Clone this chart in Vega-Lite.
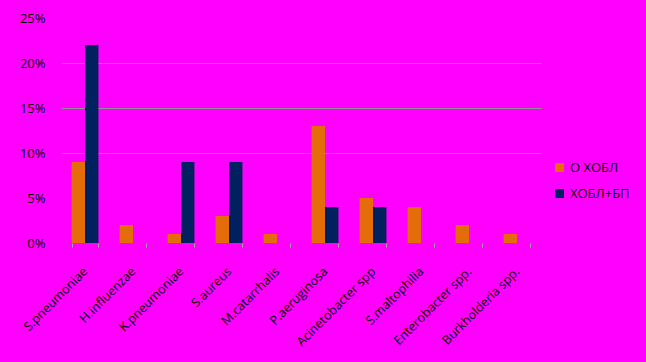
{
  "$schema": "https://vega.github.io/schema/vega-lite/v6.json",
  "width": 480,
  "height": 225,
  "autosize": {"type": "none"},
  "padding": {"left": 61, "top": 18, "right": 105, "bottom": 119},
  "background": "#FF00FF",
  "config": {
    "view": {"stroke": null},
    "font": "Open Sans",
    "axis": {"labelFont": "Open Sans", "labelColor": "#000000"},
    "legend": {"labelFont": "Open Sans", "labelColor": "#000000"}
  },
  "data": {
    "values": [
      {"org": "S.pneumoniae", "group": "О ХОБЛ", "v": 0.09},
      {"org": "S.pneumoniae", "group": "ХОБЛ+БП", "v": 0.22},
      {"org": "H.influenzae", "group": "О ХОБЛ", "v": 0.02},
      {"org": "H.influenzae", "group": "ХОБЛ+БП", "v": 0},
      {"org": "K.pneumoniae", "group": "О ХОБЛ", "v": 0.01},
      {"org": "K.pneumoniae", "group": "ХОБЛ+БП", "v": 0.09},
      {"org": "S.aureus", "group": "О ХОБЛ", "v": 0.03},
      {"org": "S.aureus", "group": "ХОБЛ+БП", "v": 0.09},
      {"org": "M.catarrhalis", "group": "О ХОБЛ", "v": 0.01},
      {"org": "M.catarrhalis", "group": "ХОБЛ+БП", "v": 0},
      {"org": "P.aeruginosa", "group": "О ХОБЛ", "v": 0.13},
      {"org": "P.aeruginosa", "group": "ХОБЛ+БП", "v": 0.04},
      {"org": "Acinetobacter spp", "group": "О ХОБЛ", "v": 0.05},
      {"org": "Acinetobacter spp", "group": "ХОБЛ+БП", "v": 0.04},
      {"org": "S.maltophilia", "group": "О ХОБЛ", "v": 0.04},
      {"org": "S.maltophilia", "group": "ХОБЛ+БП", "v": 0},
      {"org": "Enterobacter spp.", "group": "О ХОБЛ", "v": 0.02},
      {"org": "Enterobacter spp.", "group": "ХОБЛ+БП", "v": 0},
      {"org": "Burkholderia spp.", "group": "О ХОБЛ", "v": 0.01},
      {"org": "Burkholderia spp.", "group": "ХОБЛ+БП", "v": 0}
    ]
  },
  "mark": {"type": "bar"},
  "encoding": {
    "x": {
      "field": "org",
      "type": "nominal",
      "sort": null,
      "title": null,
      "scale": {"paddingInner": 0.44, "paddingOuter": 0.22},
      "axis": {
        "labelAngle": -45,
        "labelAlign": "right",
        "labelBaseline": "middle",
        "labelFontSize": 12.5,
        "labelPadding": 22,
        "domain": false,
        "ticks": true,
        "tickBand": "extent",
        "tickColor": "#A0A0A0",
        "tickSize": 4,
        "grid": false
      }
    },
    "xOffset": {"field": "group", "type": "nominal", "sort": ["О ХОБЛ", "ХОБЛ+БП"]},
    "y": {
      "field": "v",
      "type": "quantitative",
      "title": null,
      "scale": {"domain": [0, 0.25], "nice": false},
      "axis": {
        "format": ".0%",
        "values": [0, 0.05, 0.1, 0.15, 0.2, 0.25],
        "labelFontSize": 13,
        "labelPadding": 16,
        "domain": false,
        "ticks": false,
        "grid": true,
        "gridColor": "#909090",
        "gridWidth": 1,
        "gridOpacity": {"condition": {"test": "datum.value >= 0.09 && datum.value <= 0.21", "value": 1}, "value": 0}
      }
    },
    "color": {
      "field": "group",
      "type": "nominal",
      "sort": ["О ХОБЛ", "ХОБЛ+БП"],
      "scale": {"domain": ["О ХОБЛ", "ХОБЛ+БП"], "range": ["#E46C0A", "#002060"]},
      "legend": {
        "title": null,
        "orient": "none",
        "legendX": 492,
        "legendY": 143,
        "symbolType": "square",
        "symbolSize": 81,
        "symbolStrokeWidth": 0,
        "labelFontSize": 13,
        "rowPadding": 12,
        "labelOffset": 4
      }
    }
  }
}
